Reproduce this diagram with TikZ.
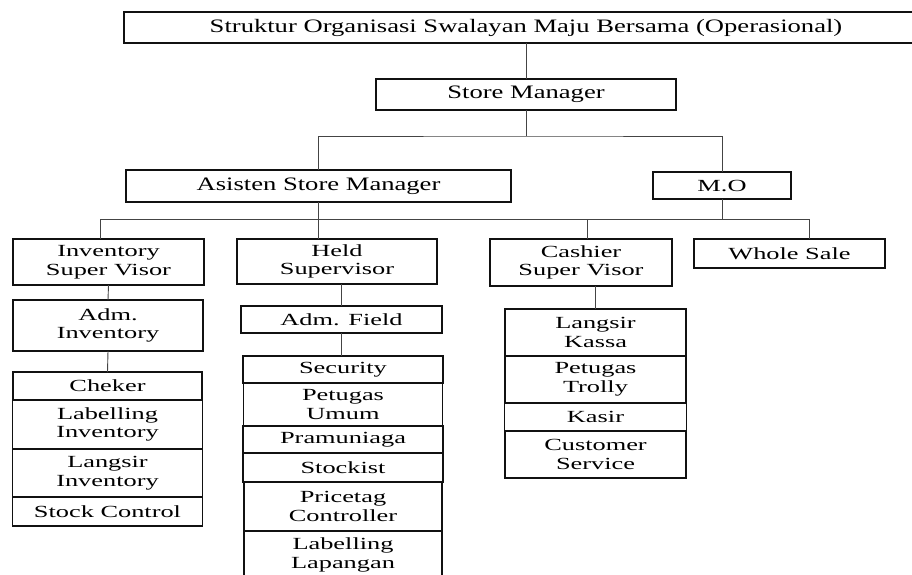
\documentclass[tikz,border=0pt]{standalone}
\usepackage{fontspec}
\usepackage{xcolor}
\usepackage{tikz}
\usetikzlibrary{positioning}
\newfontfamily\headfont{Liberation Serif}[FakeStretch=1.4]
\newfontfamily\unitfont{Liberation Serif}[FakeStretch=1.55]
\definecolor{boxline}{HTML}{111111}
\definecolor{linkline}{HTML}{444444}

\begin{document}
\begin{tikzpicture}[
        x=1pt,
        y=-1pt,
        every node/.style={
            rectangle,
            draw=boxline,
            line width=1.5pt,
            align=center,
            inner sep=0pt,
            outer sep=0pt,
            font=\unitfont\fontsize{17}{18.5}\selectfont
        },
        head/.style={
            font=\headfont\fontsize{19}{22}\selectfont
        },
        link/.style={
            line width=0.9pt,
            color=linkline
        }
    ]
        \clip (0,0) rectangle (912,574);

        \node[head, minimum width=804pt, minimum height=31pt] (title) at (526,27.5) {Struktur Organisasi Swalayan Maju Bersama (Operasional)};
        \node[head, minimum width=300pt, minimum height=31pt] (sm) at (526,94.5) {Store Manager};
        \node[head, minimum width=385pt, minimum height=32pt] (asm) at (318.5,186) {Asisten Store Manager};
        \node[minimum width=138pt, minimum height=27pt] (mo) at (722,185.5) {M.O};

        \node[minimum width=191pt, minimum height=46pt] (isv) at (108.5,262) {Inventory\\Super Visor};
        \node[minimum width=200pt, minimum height=45pt] (held) at (337,261.5) {Held\\Supervisor};
        \node[minimum width=182pt, minimum height=47pt] (csv) at (581,262.5) {Cashier\\Super Visor};
        \node[minimum width=191pt, minimum height=29pt] (ws) at (789.5,253.5) {Whole Sale};

        \node[minimum width=190pt, minimum height=51pt] (adminv) at (108,325.5) {Adm.\\Inventory};
        \node[minimum width=201pt, minimum height=27pt] (admfield) at (341.5,319.5) {Adm. Field};
        \node[minimum width=181pt, minimum height=47pt] (kassa) at (595.5,332.5) {Langsir\\Kassa};

        % Inventory column
        \node[minimum width=189pt, minimum height=28pt] (cheker) at (107.5,386) {Cheker};
        \node[minimum width=190pt, minimum height=49pt, below=0pt of cheker] (labinv) {Labelling\\Inventory};
        \node[minimum width=190pt, minimum height=48pt, below=0pt of labinv] (langinv) {Langsir\\Inventory};
        \node[minimum width=190pt, minimum height=29pt, below=0pt of langinv] (stockctl) {Stock Control};

        % Field column
        \node[minimum width=200pt, minimum height=27pt] (security) at (343,369.5) {Security};
        \node[minimum width=199pt, minimum height=43pt, below=0pt of security] (umum) {Petugas\\Umum};
        \node[minimum width=200pt, minimum height=27pt, below=0pt of umum] (pramu) {Pramuniaga};
        \node[minimum width=200pt, minimum height=29pt, below=0pt of pramu] (stockist) {Stockist};
        \node[minimum width=198pt, minimum height=49pt, below=0pt of stockist] (pricetag) {Pricetag\\Controller};
        \node[minimum width=198pt, minimum height=48pt, below=0pt of pricetag] (lablap) {Labelling\\Lapangan};

        % Cashier column
        \node[minimum width=181pt, minimum height=47pt, below=0pt of kassa] (trolly) {Petugas\\Trolly};
        \node[minimum width=182pt, minimum height=28pt, below=0pt of trolly] (kasir) {Kasir};
        \node[minimum width=181pt, minimum height=47pt, below=0pt of kasir] (cs) {Customer\\Service};

        % Tree lines
        \coordinate (topbus) at (526,136);
        \coordinate (busl) at (100,219);
        \coordinate (busr) at (809,219);

        \draw[link] (title.south) -- (sm.north);
        \draw[link] (sm.south) -- (topbus);
        \draw[link] (asm.north) |- (topbus) -| (mo.north);

        \draw[link] (busl) -- (busr);
        \draw[link] (asm.south) -- (asm.south |- held.north);
        \draw[link] (mo.south) -- (mo.south |- busr);
        \draw[link] (busl) -- (busl |- isv.north);
        \draw[link] ([xshift=6pt]csv.north) -- ([xshift=6pt]csv.north |- busr);
        \draw[link] (busr) -- (busr |- ws.north);

        \draw[link] (isv.south) -- (adminv.north);
        \draw[link] (adminv.south) -- (cheker.north);
        \draw[link] (admfield.north) -- (admfield.north |- held.south);
        \draw[link] (admfield.south) -- (admfield.south |- security.north);
        \draw[link] (kassa.north) -- (kassa.north |- csv.south);
    \end{tikzpicture}
\end{document}
